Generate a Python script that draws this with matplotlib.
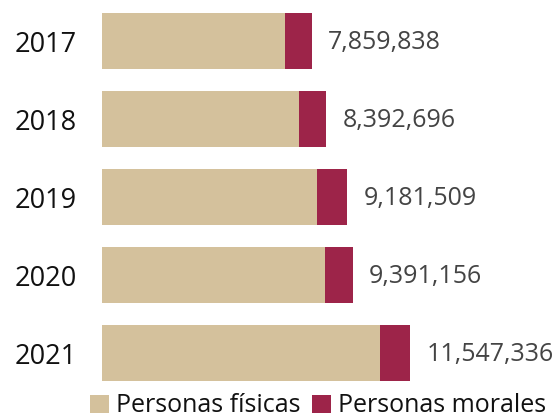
import matplotlib
matplotlib.use("Agg")
import matplotlib.pyplot as plt

years = ["2017", "2018", "2019", "2020", "2021"]
fisicas = [6844000, 7369000, 8058000, 8370000, 10431000]
totales = [7859838, 8392696, 9181509, 9391156, 11547336]
morales = [t - f for t, f in zip(totales, fisicas)]

beige = "#D4C19C"
maroon = "#9D2449"

plt.rcParams["font.family"] = ["Open Sans", "DejaVu Sans"]

W, H = 553, 420
fig = plt.figure(figsize=(W / 100, H / 100), dpi=100)
ax = fig.add_axes([102 / W, (H - 392) / H, (W - 102) / W, 390 / H])

pos = list(range(len(years)))
ax.barh(pos, fisicas, height=0.71, color=beige, label="Personas físicas")
ax.barh(pos, morales, left=fisicas, height=0.71, color=maroon, label="Personas morales")

for p, t in zip(pos, totales):
    ax.text(t + 620000, p + 0.02, f"{t:,}", va="center", ha="left", fontsize=18, color="#444444")

ax.set_xlim(0, (W - 102) / 26.68 * 1e6)
ax.set_ylim(4.5, -0.5)
ax.set_yticks(pos)
ax.set_yticklabels(years, fontsize=19.5, color="#111111")
ax.tick_params(axis="y", length=0, pad=18)
ax.set_xticks([])
for s in ax.spines.values():
    s.set_visible(False)

fig.legend(loc="center", bbox_to_anchor=(318 / W, 1 - 406 / H), ncol=2, frameon=False,
           fontsize=18, handlelength=0.75, handleheight=0.75, handletextpad=0.3,
           columnspacing=0.45, borderpad=0, labelcolor="#111111")

fig.savefig("out.png", dpi=100)
